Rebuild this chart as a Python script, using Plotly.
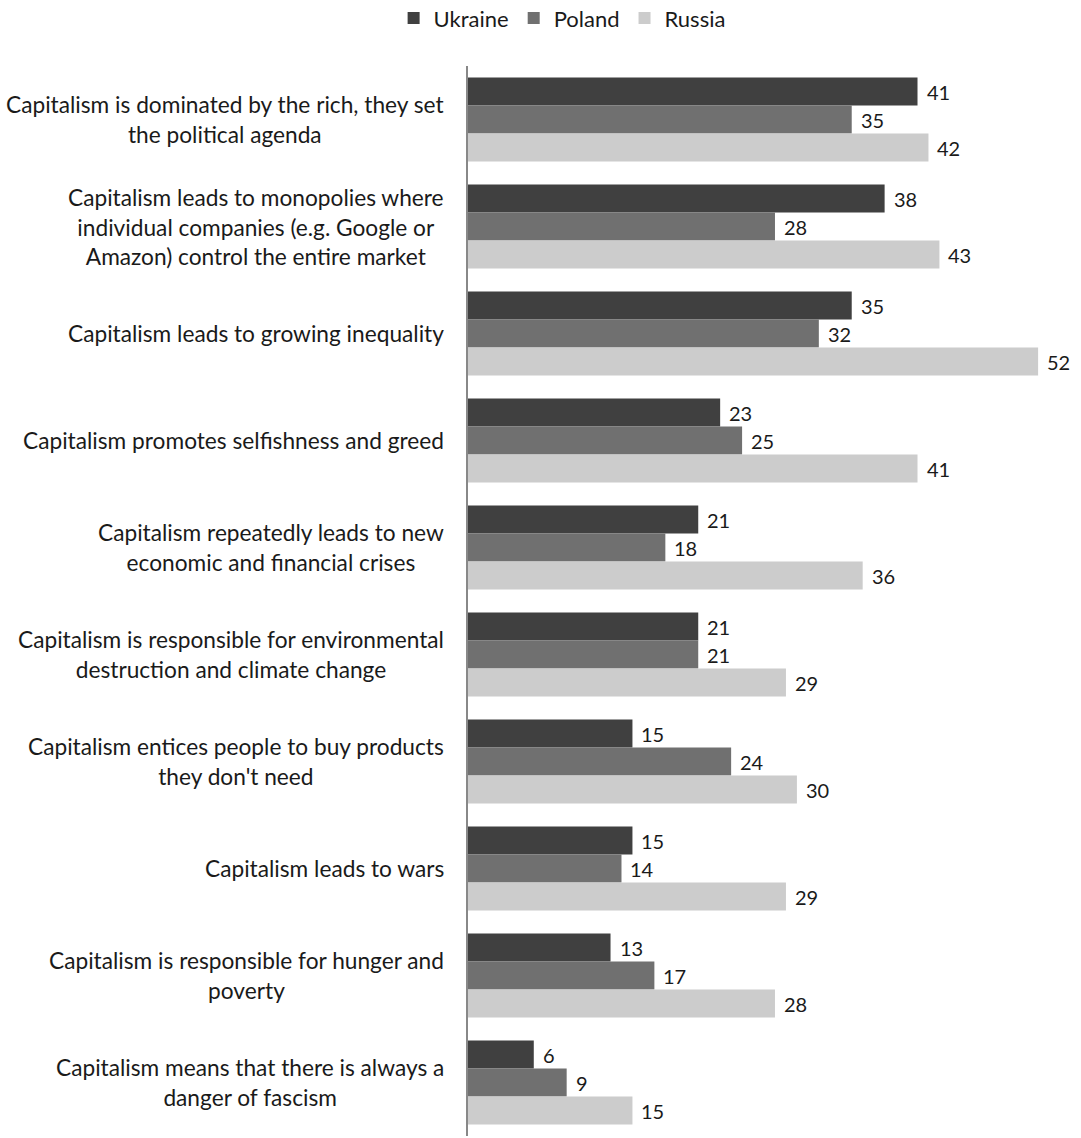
import plotly.graph_objects as go

statements = [
    "Capitalism is dominated by the rich, they set<br>the political agenda",
    "Capitalism leads to monopolies where<br>individual companies (e.g. Google or<br>Amazon) control the entire market",
    "Capitalism leads to growing inequality",
    "Capitalism promotes selfishness and greed",
    "Capitalism repeatedly leads to new<br>economic and financial crises",
    "Capitalism is responsible for environmental<br>destruction and climate change",
    "Capitalism entices people to buy products<br>they don't need",
    "Capitalism leads to wars",
    "Capitalism is responsible for hunger and<br>poverty",
    "Capitalism means that there is always a<br>danger of fascism",
]
ukraine = [41, 38, 35, 23, 21, 21, 15, 15, 13, 6]
poland = [35, 28, 32, 25, 18, 21, 24, 14, 17, 9]
russia = [42, 43, 52, 41, 36, 29, 30, 29, 28, 15]

series = [
    ("Ukraine", ukraine, "#404040", 28),
    ("Poland", poland, "#707070", 0),
    ("Russia", russia, "#cccccc", -28),
]

cats = list(range(len(statements)))
FONT = "Lato, 'DejaVu Sans', sans-serif"
TEXT = "#1a1a1a"

fig = go.Figure()
annotations = []
for name, vals, color, shift in series:
    fig.add_trace(go.Bar(
        name=name, y=cats, x=vals, orientation="h",
        marker=dict(color=color, line=dict(width=0)),
    ))
    for c, v in zip(cats, vals):
        annotations.append(dict(
            x=v, y=c, xref="x", yref="y", text=str(v), showarrow=False,
            xanchor="left", yanchor="middle", xshift=7, yshift=shift,
            font=dict(family=FONT, size=20, color=TEXT),
        ))

# category labels, centred text block right-aligned to the axis
for c, s in zip(cats, statements):
    annotations.append(dict(
        x=0, y=c, xref="paper", yref="y", text=s, showarrow=False,
        xanchor="right", yanchor="middle", align="center", xshift=-22,
        font=dict(family=FONT, size=22.7, color=TEXT),
    ))

fig.update_layout(
    width=1081, height=1138,
    margin=dict(l=468, r=10, t=66, b=2),
    paper_bgcolor="white", plot_bgcolor="white",
    barmode="group", bargap=0.215, bargroupgap=0,
    font=dict(family=FONT, size=22, color=TEXT),
    showlegend=True,
    legend=dict(
        orientation="h", xref="container", yref="container",
        x=0.52, xanchor="center", y=0.984, yanchor="middle",
        font=dict(family=FONT, size=22, color=TEXT),
        traceorder="normal", itemwidth=30,
    ),
    annotations=annotations,
    xaxis=dict(range=[0, 55], showticklabels=False, showgrid=False,
               zeroline=False, showline=False, ticks=""),
    yaxis=dict(tickvals=cats, showticklabels=False, showgrid=False,
               zeroline=False, showline=True, linecolor="#888888", linewidth=1.5,
               range=[len(cats) - 0.5, -0.5], ticks=""),
)

fig.write_html("out.html")
